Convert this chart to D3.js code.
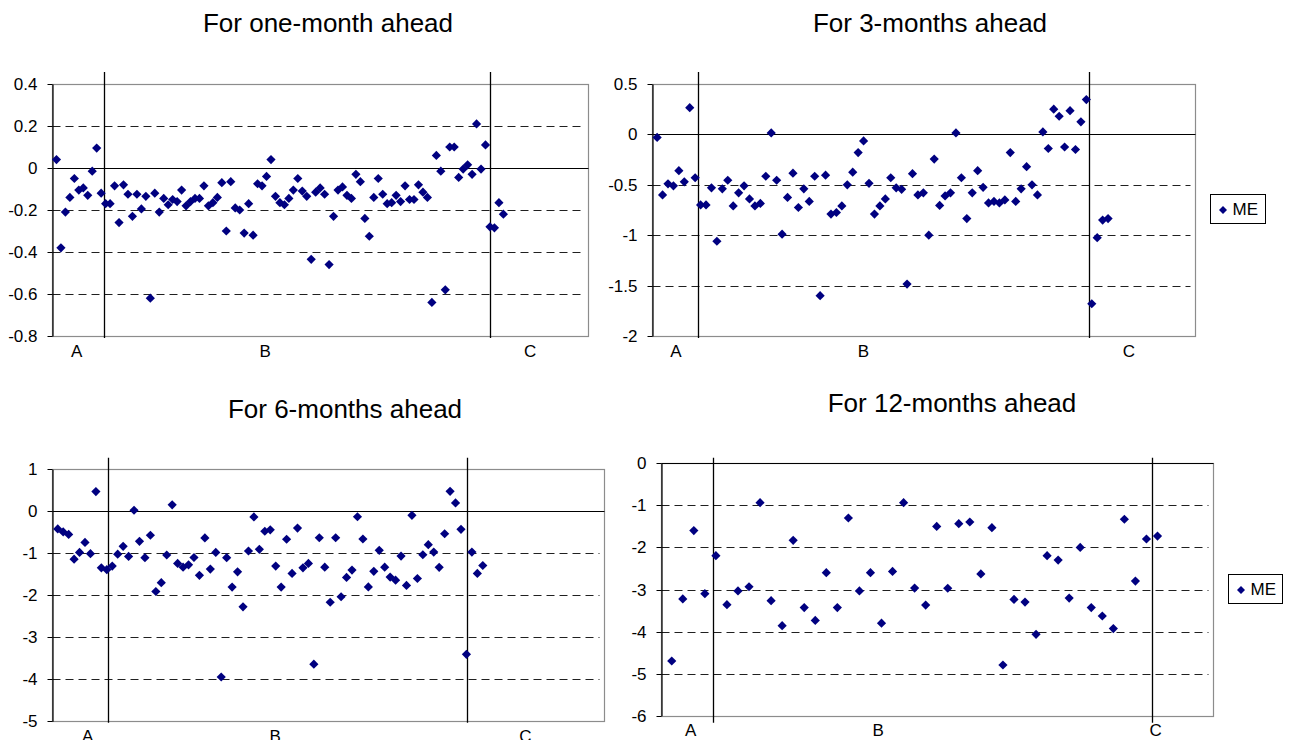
<!DOCTYPE html>
<html><head><meta charset="utf-8">
<script src="https://cdn.jsdelivr.net/npm/d3@7"></script>
<style>
body{margin:0;background:#fff}
svg{display:block}
text{font-family:"Liberation Sans", Arial, sans-serif; fill:#000}
</style>
</head><body>
<svg id="chart" width="1292" height="740"></svg>
<script>
// ---------------- DATA ----------------
const seriesName = "ME";
const sectionLabels = ["A", "B", "C"];

const title1 = "For one-month ahead";
const title2 = "For 3-months ahead";
const title3 = "For 6-months ahead";
const title4 = "For 12-months ahead";

const me1 = [0.04,-0.38,-0.21,-0.14,-0.05,-0.105,-0.095,-0.13,-0.015,0.095,
  -0.12,-0.17,-0.17,-0.085,-0.26,-0.08,-0.125,-0.23,-0.125,-0.195,
  -0.135,-0.62,-0.12,-0.21,-0.145,-0.175,-0.15,-0.16,-0.105,-0.18,
  -0.16,-0.145,-0.145,-0.085,-0.18,-0.165,-0.14,-0.07,-0.30,-0.065,
  -0.19,-0.20,-0.31,-0.17,-0.32,-0.075,-0.085,-0.04,0.04,-0.135,
  -0.165,-0.175,-0.145,-0.105,-0.05,-0.11,-0.135,-0.435,-0.115,-0.095,
  -0.125,-0.46,-0.23,-0.105,-0.09,-0.13,-0.145,-0.03,-0.065,-0.24,
  -0.325,-0.14,-0.05,-0.125,-0.17,-0.165,-0.13,-0.16,-0.085,-0.15,
  -0.15,-0.08,-0.115,-0.14,-0.64,0.06,-0.015,-0.58,0.10,0.10,
  -0.045,-0.005,0.015,-0.03,0.21,-0.005,0.11,-0.28,-0.285,-0.165,-0.22];

const me2 = [-0.03,-0.60,-0.49,-0.51,-0.36,-0.47,0.265,-0.43,-0.70,-0.70,
  -0.53,-1.06,-0.54,-0.455,-0.71,-0.58,-0.51,-0.64,-0.71,-0.685,
  -0.415,0.015,-0.455,-0.99,-0.625,-0.385,-0.725,-0.54,-0.665,-0.415,
  -1.60,-0.405,-0.79,-0.775,-0.71,-0.50,-0.375,-0.18,-0.065,-0.485,
  -0.79,-0.71,-0.64,-0.43,-0.53,-0.545,-1.485,-0.39,-0.60,-0.58,
  -1.00,-0.245,-0.705,-0.61,-0.58,0.015,-0.43,-0.835,-0.58,-0.36,
  -0.525,-0.68,-0.665,-0.68,-0.65,-0.18,-0.665,-0.54,-0.32,-0.50,
  -0.60,0.025,-0.14,0.25,0.18,-0.125,0.235,-0.15,0.125,0.345,
  -1.68,-1.025,-0.85,-0.835];

const me3 = [-0.42,-0.49,-0.55,-1.14,-0.98,-0.74,-1.01,0.47,-1.345,-1.39,
  -1.305,-1.02,-0.835,-1.075,0.025,-0.715,-1.105,-0.57,-1.91,-1.70,
  -1.04,0.155,-1.24,-1.33,-1.275,-1.10,-1.525,-0.635,-1.375,-0.98,
  -3.945,-1.105,-1.805,-1.44,-2.275,-0.945,-0.135,-0.905,-0.475,-0.44,
  -1.305,-1.805,-0.665,-1.48,-0.40,-1.345,-1.24,-3.64,-0.63,-1.33,
  -2.165,-0.63,-2.035,-1.575,-1.40,-0.13,-0.66,-1.80,-1.43,-0.93,
  -1.33,-1.565,-1.64,-1.065,-1.765,-0.095,-1.60,-1.035,-0.795,-0.97,
  -1.335,-0.535,0.475,0.20,-0.43,-3.405,-0.97,-1.48,-1.29];

const me4 = [-4.70,-3.225,-1.60,-3.10,-2.195,-3.36,-3.035,-2.935,-0.935,-3.265,
  -3.86,-1.83,-3.43,-3.735,-2.60,-3.43,-1.30,-3.035,-2.60,-3.80,
  -2.57,-0.935,-2.965,-3.37,-1.50,-2.97,-1.435,-1.395,-2.63,-1.53,
  -4.795,-3.235,-3.30,-4.065,-2.195,-2.30,-3.205,-2.00,-3.43,-3.63,
  -3.93,-1.33,-2.80,-1.80,-1.73];

const yTicks1 = [0.4,0.2,0,-0.2,-0.4,-0.6,-0.8];
const yTickLabels1 = ["0.4","0.2","0","-0.2","-0.4","-0.6","-0.8"];
const yTicks2 = [0.5,0,-0.5,-1,-1.5,-2];
const yTickLabels2 = ["0.5","0","-0.5","-1","-1.5","-2"];
const yTicks3 = [1,0,-1,-2,-3,-4,-5];
const yTickLabels3 = ["1","0","-1","-2","-3","-4","-5"];
const yTicks4 = [0,-1,-2,-3,-4,-5,-6];
const yTickLabels4 = ["0","-1","-2","-3","-4","-5","-6"];

// period boundaries and period-label positions, in observation-index units
const bounds1 = [11.57, 98.1];   const labelAt1 = [5.5, 47.7, 107];
const bounds2 = [8.47, 80.43];   const labelAt2 = [4.47, 38.95, 87.85];
const bounds3 = [10.28, 76.05];  const labelAt3 = [6.5, 40.9, 86.8];
const bounds4 = [4.71, 44.53];   const labelAt4 = [2.72, 19.7, 44.84];

// ---------------- LAYOUT ----------------
const panels = [
  {title:title1, values:me1, ticks:yTicks1, tickLabels:yTickLabels1, bounds:bounds1, labelAt:labelAt1,
   xMax:120, left:52, top:84, right:588.3, bottom:336, titleX:328, titleY:31.5, labY:357, sepTop:72, sepBot:338, legend:null},
  {title:title2, values:me2, ticks:yTicks2, tickLabels:yTickLabels2, bounds:bounds2, labelAt:labelAt2,
   xMax:100, left:651.7, top:84, right:1195, bottom:336, titleX:930, titleY:31.5, labY:357, sepTop:72, sepBot:338,
   legend:{x:1210.5, y:194.5, w:55, h:29}},
  {title:title3, values:me3, ticks:yTicks3, tickLabels:yTickLabels3, bounds:bounds3, labelAt:labelAt3,
   xMax:101.3, left:52.3, top:469.3, right:604.3, bottom:721.3, titleX:345, titleY:418, labY:741.5, sepTop:457.7, sepBot:722.7, legend:null},
  {title:title4, values:me4, ticks:yTicks4, tickLabels:yTickLabels4, bounds:bounds4, labelAt:labelAt4,
   xMax:50, left:660.7, top:463.3, right:1212.7, bottom:715.7, titleX:952, titleY:411.7, labY:735.5, sepTop:457.7, sepBot:722.7,
   legend:{x:1228.5, y:574.5, w:54, h:29}}
];

const svg = d3.select("#chart");
const navy = "#000080";
const diamond = r => `M0,${-r}L${r},0L0,${r}L${-r},0Z`;
const px = v => Math.round(v) + 0.5;

panels.forEach(p => {
  const g = svg.append("g");
  const yMin = d3.min(p.ticks), yMax = d3.max(p.ticks);
  const x = d3.scaleLinear().domain([0, p.xMax]).range([p.left, p.right]);
  const y = d3.scaleLinear().domain([yMin, yMax]).range([p.bottom, p.top]);

  // title
  g.append("text").attr("x", p.titleX).attr("y", p.titleY)
    .attr("text-anchor", "middle").style("font-size", "26px").text(p.title);

  // plot border (gray)
  g.append("rect")
    .attr("x", px(x(0))).attr("y", px(y(yMax)))
    .attr("width", Math.round(x(p.xMax)) - Math.round(x(0)))
    .attr("height", Math.round(y(yMin)) - Math.round(y(yMax)))
    .attr("fill", "none").attr("stroke", "#8c8c8c").attr("stroke-width", 1.2);

  // dashed gridlines
  g.selectAll("line.grid").data(p.ticks.filter(t => t !== 0 && t !== yMin && t !== yMax))
    .enter().append("line")
    .attr("x1", px(x(0))).attr("x2", px(x(p.xMax)) - 5)
    .attr("y1", d => px(y(d))).attr("y2", d => px(y(d)))
    .attr("stroke", "#202020").attr("stroke-width", 1).attr("stroke-dasharray", "8,5");

  // zero line (category axis)
  g.append("line")
    .attr("x1", px(x(0))).attr("x2", px(x(p.xMax)))
    .attr("y1", px(y(0))).attr("y2", px(y(0)))
    .attr("stroke", "#000").attr("stroke-width", 1);

  // y axis
  const axis = d3.axisLeft(y).tickValues(p.ticks).tickSizeInner(5).tickSizeOuter(0)
    .tickPadding(10).tickFormat((d, i) => p.tickLabels[i]);
  const ag = g.append("g").attr("transform", `translate(${px(x(0))},0)`).call(axis);
  ag.select(".domain").attr("stroke", "#000").attr("stroke-width", 1.2);
  ag.selectAll(".tick line").attr("stroke", "#000");
  ag.selectAll(".tick text").style("font-size", "17px")
    .attr("font-family", "Liberation Sans, Arial, sans-serif").attr("fill", "#000");
  ag.selectAll(".tick").attr("transform", d => `translate(0,${px(y(d))})`);

  // period separators
  g.selectAll("line.sep").data(p.bounds).enter().append("line")
    .attr("x1", d => px(x(d))).attr("x2", d => px(x(d)))
    .attr("y1", p.sepTop).attr("y2", p.sepBot)
    .attr("stroke", "#000").attr("stroke-width", 1.3);

  // period labels
  g.selectAll("text.lab").data(p.labelAt).enter().append("text")
    .attr("x", d => x(d)).attr("y", p.labY).attr("text-anchor", "middle")
    .style("font-size", "17px").text((d, i) => sectionLabels[i]);

  // points
  g.selectAll("path.pt").data(p.values).enter().append("path")
    .attr("d", diamond(4.6))
    .attr("transform", (d, i) => `translate(${x(i + 1)},${y(d)})`)
    .attr("fill", navy);

  // legend
  if (p.legend) {
    const L = p.legend;
    const lg = g.append("g");
    lg.append("rect").attr("x", L.x).attr("y", L.y).attr("width", L.w).attr("height", L.h)
      .attr("fill", "#fff").attr("stroke", "#000").attr("stroke-width", 1);
    lg.append("path").attr("d", diamond(4))
      .attr("transform", `translate(${L.x + 12.5},${L.y + L.h / 2 + 1})`).attr("fill", navy);
    lg.append("text").attr("x", L.x + 22).attr("y", L.y + L.h / 2 + 6)
      .style("font-size", "17px").text(seriesName);
  }
});
</script>
</body></html>
